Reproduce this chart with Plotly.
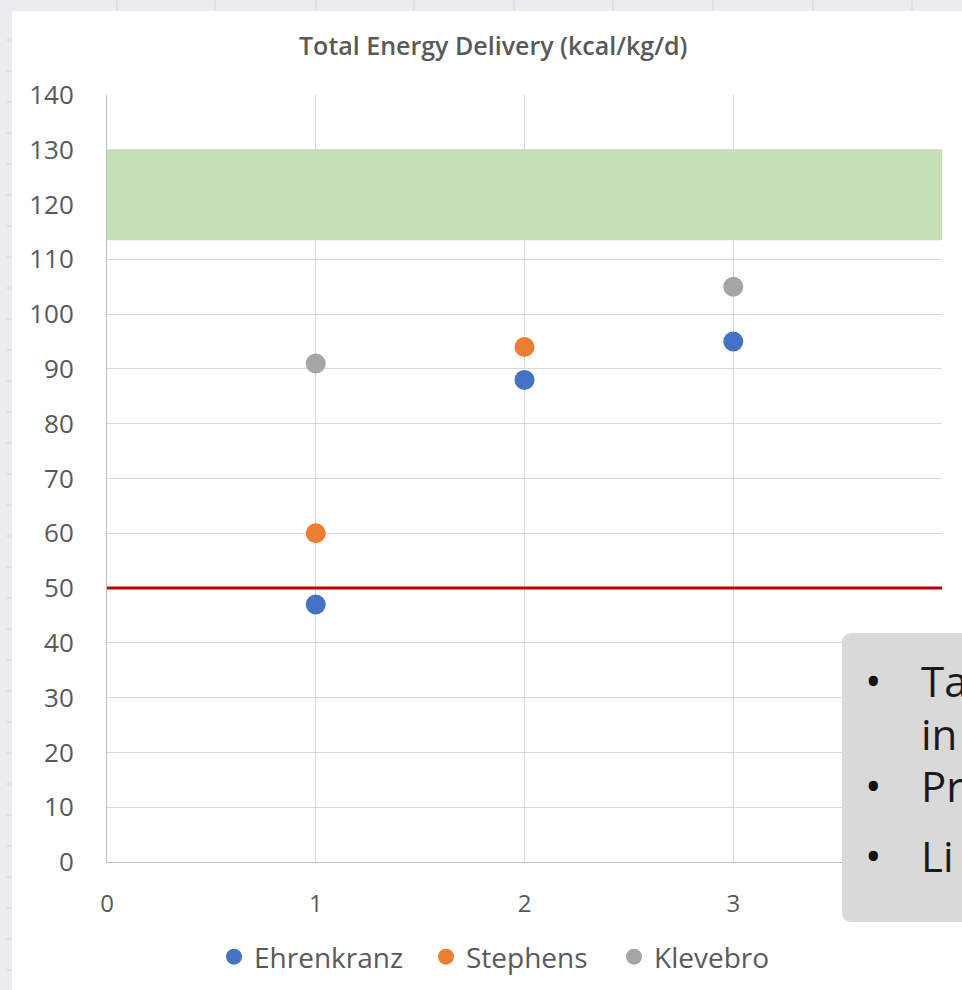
import plotly.graph_objects as go

# Study results: day index vs total energy delivery (kcal/kg/d)
ehrenkranz_x = [1, 2, 3]
ehrenkranz_y = [47, 88, 95]
stephens_x = [1, 2]
stephens_y = [60, 94]
klevebro_x = [1, 3]
klevebro_y = [91, 105]

# Recommended target band and minimum reference line
target_band = [113.5, 130]
reference_level = 50

x_ticks = [0, 1, 2, 3, 4]
y_ticks = list(range(0, 141, 10))

W, H = 962, 990
L, R, T, B = 107, 20, 95, 128
PW, PH = W - L - R, H - T - B

FONT = "Open Sans"
GREY_TXT = "#595959"


def px(x):
    return (x - L) / PW


def py(y):
    return (H - B - y) / PH


fig = go.Figure()

# target band as a filled region
fig.add_trace(go.Scatter(
    x=[x_ticks[0], x_ticks[-1], x_ticks[-1], x_ticks[0], x_ticks[0]],
    y=[target_band[0], target_band[0], target_band[1], target_band[1], target_band[0]],
    fill="toself", fillcolor="#c5e0b4", line=dict(width=0),
    mode="lines", showlegend=False, hoverinfo="skip"))

# minimum reference line
fig.add_trace(go.Scatter(
    x=[x_ticks[0], x_ticks[-1]], y=[reference_level, reference_level],
    mode="lines", line=dict(color="#c00000", width=3),
    showlegend=False, hoverinfo="skip"))

# one legend box per series so each entry can sit where it belongs
series = [
    ("Ehrenkranz", ehrenkranz_x, ehrenkranz_y, "#4472c4", "legend", 214),
    ("Stephens", stephens_x, stephens_y, "#ed7d31", "legend2", 426),
    ("Klevebro", klevebro_x, klevebro_y, "#a5a5a5", "legend3", 614),
]
legend_cfg = {}
for name, xs, ys, col, lg, lx in series:
    fig.add_trace(go.Scatter(
        x=xs, y=ys, mode="markers", name=name, legend=lg,
        marker=dict(color=col, size=20, line=dict(width=0))))
    legend_cfg[lg] = dict(orientation="h", x=px(lx), y=py(957), xanchor="left",
                          yanchor="middle", borderwidth=0,
                          font=dict(family=FONT, size=28, color=GREY_TXT),
                          itemwidth=30, bgcolor="rgba(0,0,0,0)")

shapes = []
# spreadsheet strips around the chart
shapes.append(dict(type="rect", xref="paper", yref="paper", layer="below",
                   x0=px(0), x1=px(W), y0=py(11), y1=py(0),
                   fillcolor="#ebebf0", line=dict(width=0)))
shapes.append(dict(type="rect", xref="paper", yref="paper", layer="below",
                   x0=px(0), x1=px(12), y0=py(H), y1=py(0),
                   fillcolor="#ebebf0", line=dict(width=0)))
for cx in [117, 215, 316, 414, 514, 613, 713, 813, 912]:
    shapes.append(dict(type="line", xref="paper", yref="paper", layer="below",
                       x0=px(cx), x1=px(cx), y0=py(0), y1=py(11),
                       line=dict(color="#d6d6dc", width=1)))
for ry in range(40, H, 31):
    shapes.append(dict(type="line", xref="paper", yref="paper", layer="below",
                       x0=px(6), x1=px(12), y0=py(ry), y1=py(ry),
                       line=dict(color="#d6d6dc", width=1)))

# callout box at the lower right
bx0, by0, bx1, by1, r = 842, 633, 990, 922, 10
path = (f"M {px(bx0 + r)},{py(by0)} L {px(bx1)},{py(by0)} L {px(bx1)},{py(by1)} "
        f"L {px(bx0 + r)},{py(by1)} Q {px(bx0)},{py(by1)} {px(bx0)},{py(by1 - r)} "
        f"L {px(bx0)},{py(by0 + r)} Q {px(bx0)},{py(by0)} {px(bx0 + r)},{py(by0)} Z")
shapes.append(dict(type="path", xref="paper", yref="paper", layer="above",
                   path=path, fillcolor="#d9d9d9", line=dict(width=0)))

annotations = [
    dict(text="Total Energy Delivery (kcal/kg/d)", xref="paper", yref="paper",
         x=px(493), y=py(45), xanchor="center", yanchor="middle", showarrow=False,
         font=dict(family=FONT, size=25, color=GREY_TXT, weight=600)),
]
box_lines = [("•", "Ta", 680), (None, "in", 733), ("•", "Pr", 785), ("•", "Li", 855)]
for bullet, txt, yy in box_lines:
    if bullet:
        annotations.append(dict(text=bullet, xref="paper", yref="paper",
                                x=px(873), y=py(yy), xanchor="center", yanchor="middle",
                                showarrow=False, font=dict(family=FONT, size=44, color="#111")))
    annotations.append(dict(text=txt, xref="paper", yref="paper",
                            x=px(919), y=py(yy), xanchor="left", yanchor="middle",
                            showarrow=False, font=dict(family=FONT, size=42, color="#1a1a1a")))

fig.update_layout(
    width=W, height=H,
    margin=dict(l=L, r=R, t=T, b=B, pad=0, autoexpand=False),
    paper_bgcolor="white", plot_bgcolor="white",
    font=dict(family=FONT, color=GREY_TXT),
    shapes=shapes, annotations=annotations,
    showlegend=True,
    xaxis=dict(range=[x_ticks[0], x_ticks[-1]], tickvals=x_ticks, ticks="",
               showgrid=True, gridcolor="#d9d9d9", gridwidth=1,
               showline=True, linecolor="#bfbfbf", linewidth=1,
               zeroline=False, tickfont=dict(size=24, color=GREY_TXT),
               ticklabelstandoff=20, fixedrange=True),
    yaxis=dict(range=[y_ticks[0], y_ticks[-1]], tickvals=y_ticks, ticks="",
               showgrid=True, gridcolor="#d9d9d9", gridwidth=1,
               showline=True, linecolor="#bfbfbf", linewidth=1,
               zeroline=False, tickfont=dict(size=26, color=GREY_TXT),
               ticklabelstandoff=27, fixedrange=True),
    **legend_cfg,
)

fig.write_html("out.html")
